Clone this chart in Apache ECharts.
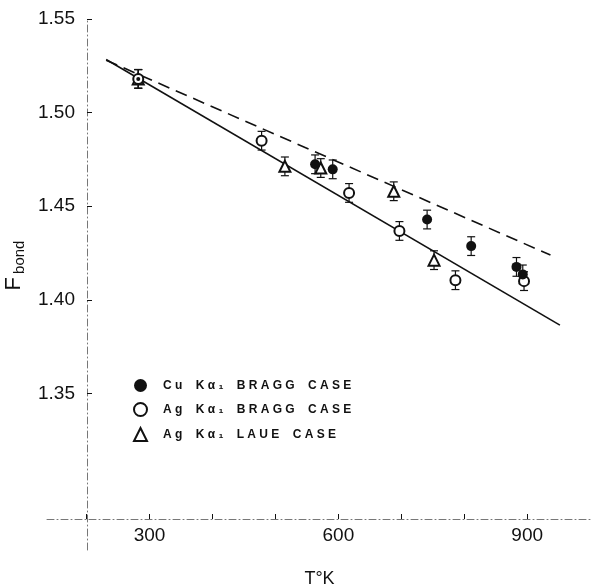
<!DOCTYPE html>
<html>
<head>
<meta charset="utf-8">
<script src="https://cdn.jsdelivr.net/npm/echarts@6/dist/echarts.min.js"></script>
<style>
  html, body { margin: 0; padding: 0; background: #fff; }
  #chart { width: 594px; height: 585px; }
</style>
</head>
<body>
<div id="chart"></div>
<script>
// temperature (K), F_bond
const cuBragg = [[282, 1.518], [563, 1.4724], [591, 1.4697], [741, 1.4429], [811, 1.4287], [883, 1.4176], [893, 1.4136]];
const cuBraggErr = [0.005, 0.005, 0.005, 0.005, 0.005, 0.005, 0.005];
const agBragg = [[282, 1.518], [478, 1.485], [617, 1.4571], [697, 1.4368], [786, 1.4105], [895, 1.410]];
const agBraggErr = [0.005, 0.005, 0.005, 0.005, 0.005, 0.005];
const agLaue = [[282, 1.518], [515, 1.4713], [572, 1.4704], [688, 1.458], [752, 1.4212]];
const agLaueErr = [0.005, 0.005, 0.005, 0.005, 0.005];
// fitted lines (end points)
const solidLine = [[231, 1.5284], [952, 1.3865]];
const dashedLine = [[231, 1.528], [937, 1.4239]];

const xTicks = [200, 300, 400, 500, 600, 700, 800, 900];
const xLabels = [300, 600, 900];
const yTicks = [1.35, 1.40, 1.45, 1.50, 1.55];

// letter-spaced legend texts, as printed
const gap = '\u00a0\u00a0\u00a0 ';
const legendNames = [
    'C u' + gap + 'K α ₁' + gap + 'B R A G G' + gap + 'C A S E',
    'A g' + gap + 'K α ₁' + gap + 'B R A G G' + gap + 'C A S E',
    'A g' + gap + 'K α ₁' + gap + 'L A U E' + gap + 'C A S E'
];

const ink = '#111';
const axisGray = '#777';

const errorBars = (name, pts, errs) => ({
    type: 'custom',
    name: name + '-err',
    z: 2,
    clip: false,
    silent: true,
    data: pts.map((p, i) => [p[0], p[1], errs[i]]),
    renderItem: (params, api) => {
        const x = api.value(0), y = api.value(1), e = api.value(2);
        const hi = api.coord([x, y + e]);
        const lo = api.coord([x, y - e]);
        const w = 4;
        const st = { stroke: ink, lineWidth: 1.2 };
        return {
            type: 'group',
            children: [
                { type: 'line', shape: { x1: hi[0], y1: hi[1], x2: lo[0], y2: lo[1] }, style: st },
                { type: 'line', shape: { x1: hi[0] - w, y1: hi[1], x2: hi[0] + w, y2: hi[1] }, style: st },
                { type: 'line', shape: { x1: lo[0] - w, y1: lo[1], x2: lo[0] + w, y2: lo[1] }, style: st }
            ]
        };
    }
});

const myChart = echarts.init(document.getElementById('chart'));

const option = {
    animation: false,
    backgroundColor: '#fff',
    grid: { left: 47, right: 2, top: 19, bottom: 35, outerBoundsMode: 'none' },
    legend: {
        data: legendNames,
        orient: 'vertical',
        left: 128,
        top: 374,
        itemWidth: 13,
        itemHeight: 13,
        itemGap: 10,
        textStyle: { fontFamily: 'Liberation Sans', fontWeight: 'bold', fontSize: 12, color: ink, padding: [0, 0, 0, 11] },
        selectedMode: false
    },
    xAxis: {
        type: 'value',
        min: 137,
        max: 1003,
        offset: -31,
        name: 'T°K',
        nameLocation: 'middle',
        nameGap: 51,
        nameTextStyle: { fontFamily: 'Liberation Sans', fontSize: 18, color: ink },
        axisLine: { lineStyle: { color: axisGray, width: 1, type: [7, 3, 1, 3] } },
        axisTick: { inside: true, length: 5, customValues: xTicks, lineStyle: { color: ink } },
        axisLabel: { customValues: xLabels, margin: 7, fontFamily: 'Liberation Sans', fontSize: 19, color: ink },
        splitLine: { show: false }
    },
    yAxis: {
        type: 'value',
        min: 1.2664,
        max: 1.55,
        offset: -40,
        name: '{f|F}{s|bond}',
        nameLocation: 'middle',
        nameRotate: 90,
        nameGap: 58,
        nameTextStyle: {
            color: ink,
            padding: [0, 0, 0, 38],
            rich: {
                f: { fontFamily: 'Liberation Sans', fontSize: 22, color: ink },
                s: { fontFamily: 'Liberation Sans', fontSize: 15, color: ink, padding: [12, 0, 0, 3] }
            }
        },
        axisLine: { lineStyle: { color: axisGray, width: 1, type: [7, 3, 1, 3] } },
        axisTick: { inside: true, length: 5, customValues: yTicks, lineStyle: { color: ink } },
        axisLabel: {
            customValues: yTicks,
            margin: 12,
            fontFamily: 'Liberation Sans',
            fontSize: 19,
            color: ink,
            formatter: v => v.toFixed(2)
        },
        splitLine: { show: false }
    },
    series: [
        {
            type: 'line', data: solidLine, symbol: 'none', z: 1, silent: true,
            lineStyle: { color: ink, width: 1.6 }
        },
        {
            type: 'line', data: dashedLine, symbol: 'none', z: 1, silent: true,
            lineStyle: { color: ink, width: 1.6, type: [12, 7] }
        },
        errorBars('cu', cuBragg, cuBraggErr),
        errorBars('agB', agBragg, agBraggErr),
        errorBars('agL', agLaue, agLaueErr),
        {
            name: legendNames[2], type: 'scatter', data: agLaue, z: 3,
            symbol: 'emptyTriangle', symbolSize: 11,
            itemStyle: { color: ink, borderColor: ink, borderWidth: 1.2, opacity: 1 }
        },
        {
            name: legendNames[1], type: 'scatter', data: agBragg, z: 4,
            symbol: 'emptyCircle', symbolSize: 10,
            itemStyle: { color: ink, borderColor: ink, borderWidth: 1.3, opacity: 1 }
        },
        {
            name: legendNames[0], type: 'scatter', data: cuBragg, z: 5,
            symbol: 'circle', symbolSize: v => (v[0] < 400 ? 4 : 10),
            itemStyle: { color: ink, opacity: 1 }
        }
    ]
};

myChart.setOption(option);
</script>
</body>
</html>
